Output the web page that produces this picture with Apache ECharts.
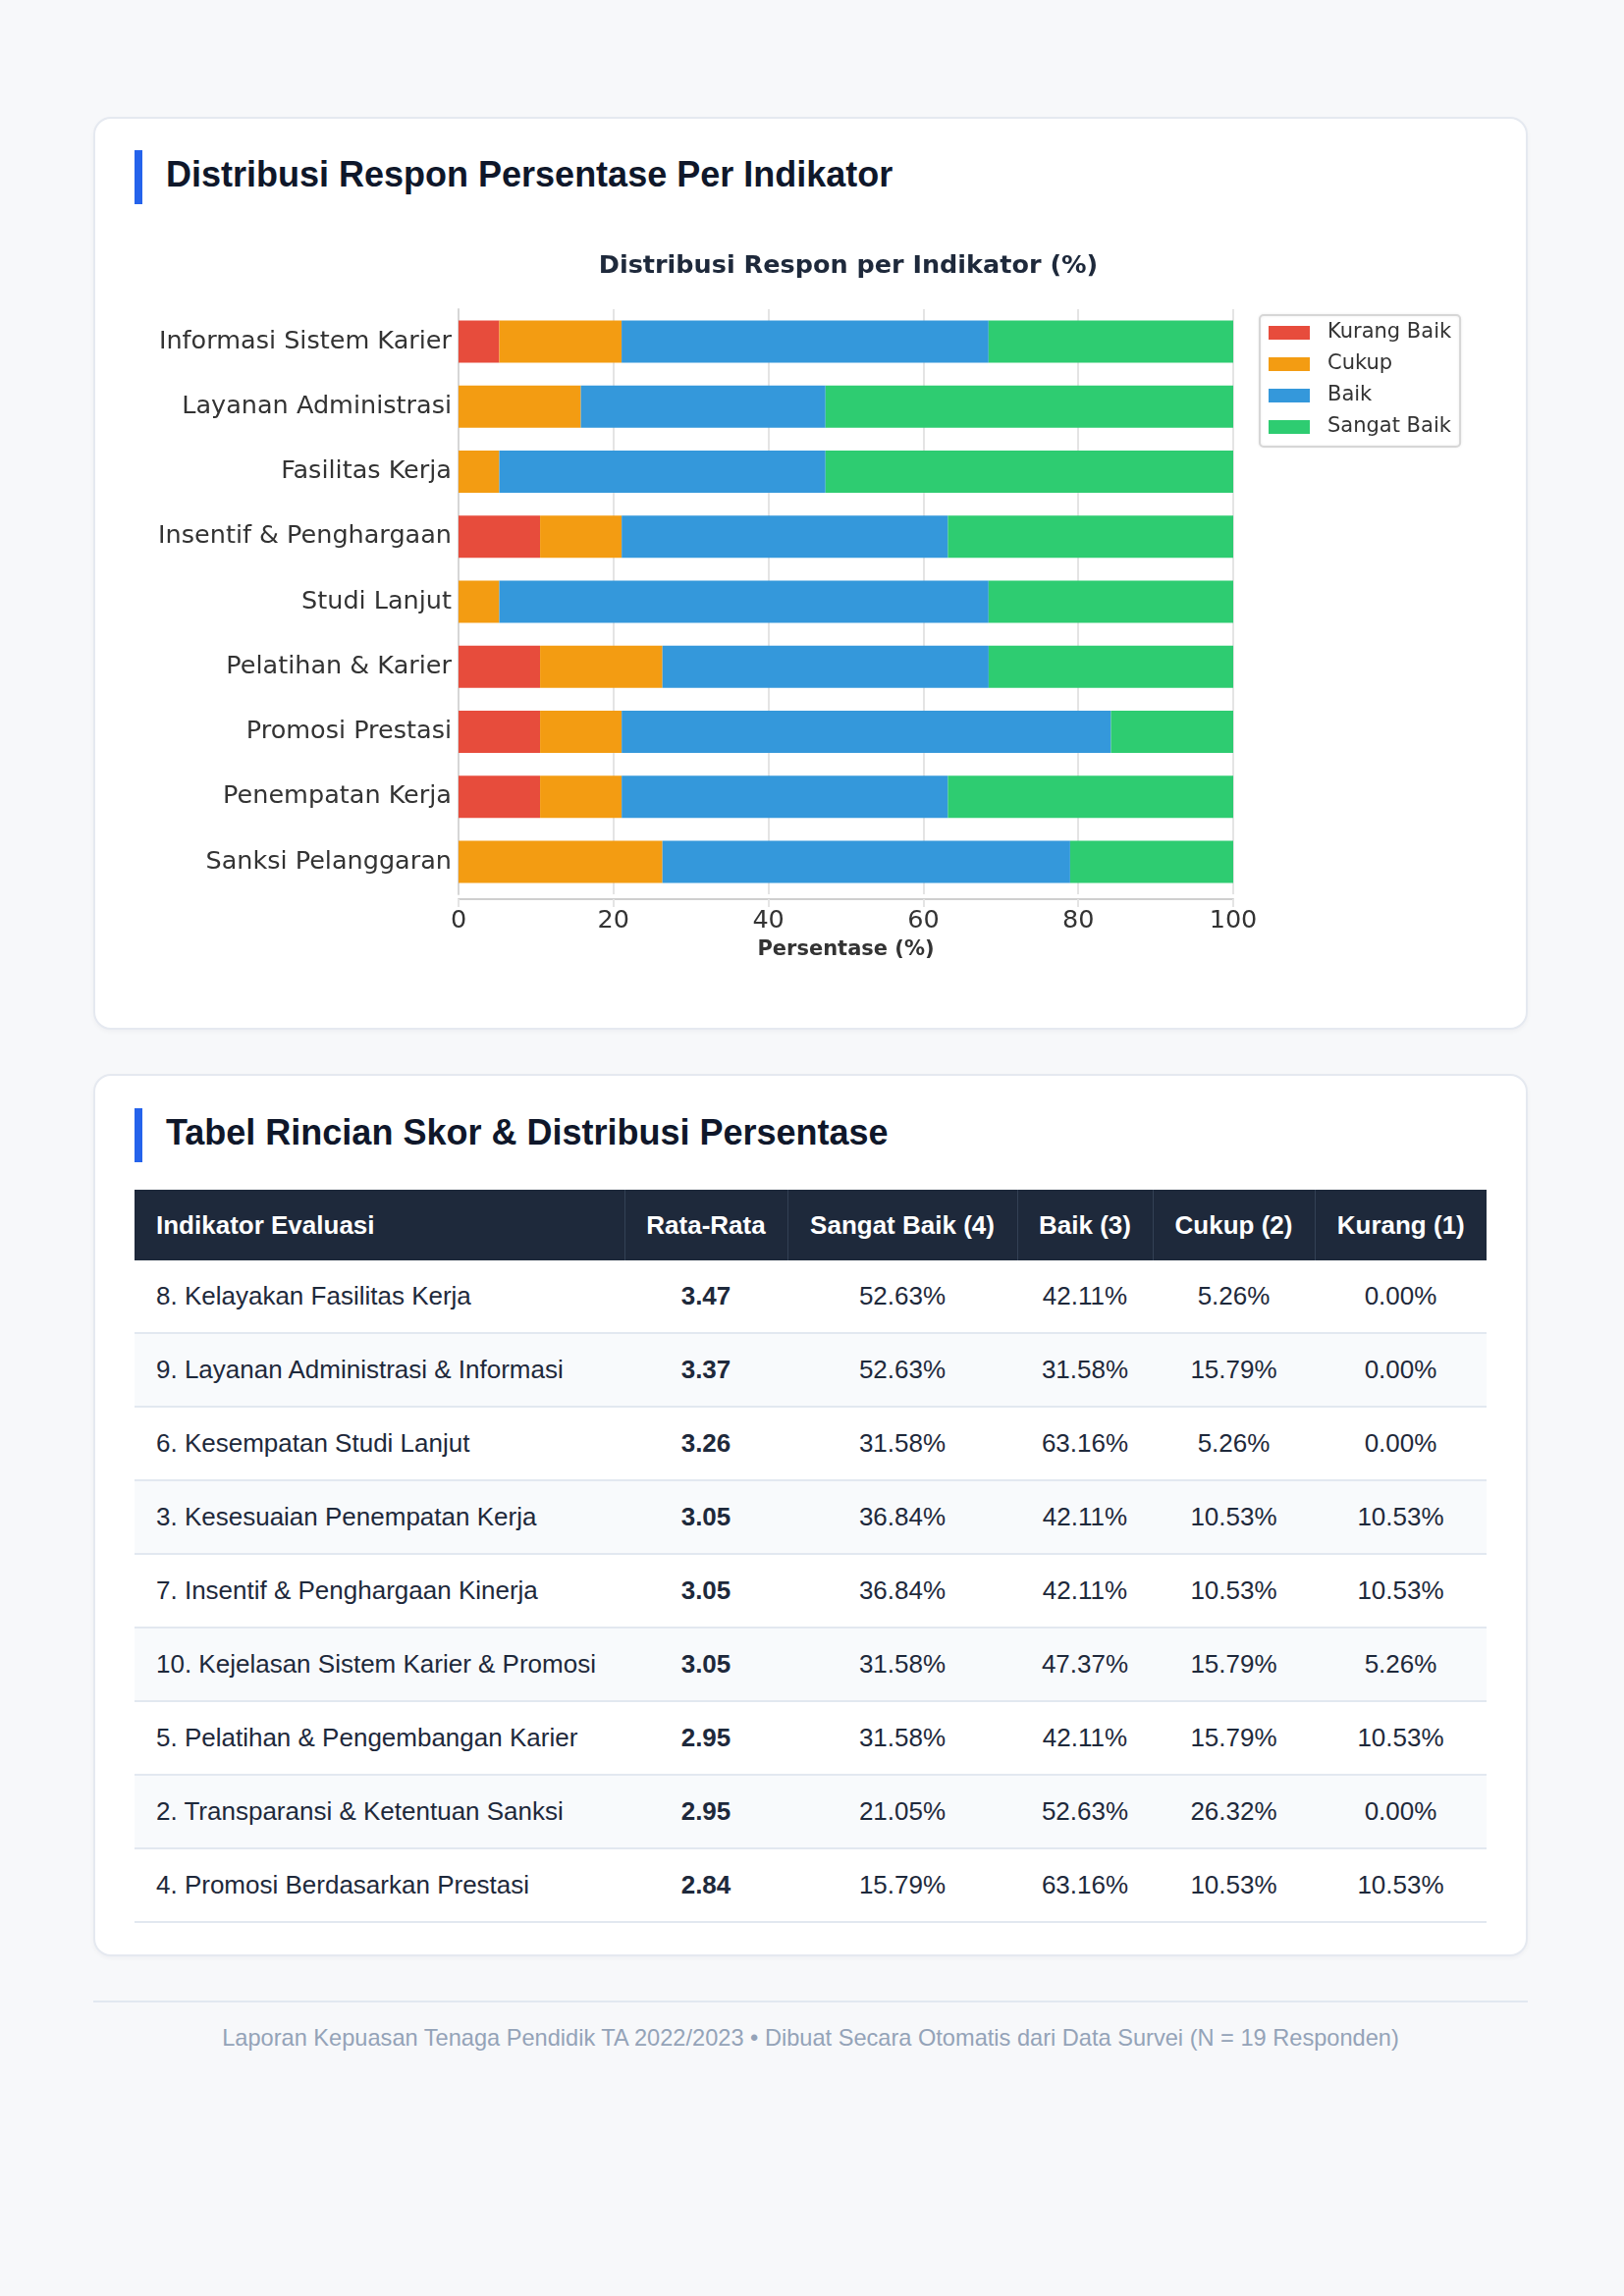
<!DOCTYPE html>
<html lang="id">
<head>
  <meta charset="UTF-8">
  <title>Distribusi Respon Persentase Per Indikator</title>
  <script src="https://cdn.jsdelivr.net/npm/echarts@6/dist/echarts.min.js"></script>
  <style>
    body {
      margin: 0;
      background: #f7f8fa;
      font-family: "Liberation Sans", Arial, sans-serif;
      color: #1e293b;
    }
    .wrap {
      width: 1461px;
      margin-left: 95px;
      padding-top: 119px;
    }
    .card {
      box-sizing: border-box;
      background: #fff;
      border: 2px solid #e5e9f0;
      border-radius: 18px;
      box-shadow: 0 2px 4px rgba(15, 23, 42, 0.04);
      padding: 32px 40px 29px 40px;
    }
    .card + .card { margin-top: 45px; padding-top: 33px; padding-bottom: 32px; }
    h2 {
      margin: 0 0 20px 0;
      font-size: 36px;
      line-height: 50px;
      font-weight: bold;
      color: #0f172a;
      border-left: 8px solid #2563eb;
      padding: 0 0 5px 24px;
    }
    .card + .card h2 { margin-bottom: 28px; }
    #chart { width: 1377px; height: 790px; }
    table {
      width: 1377px;
      border-collapse: collapse;
      table-layout: fixed;
      font-size: 26px;
    }
    th {
      background: #1e293b;
      color: #fff;
      font-weight: bold;
      height: 72px;
      padding: 0;
      text-align: center;
      border-left: 1px solid #334155;
    }
    th:first-child { text-align: left; padding-left: 22px; border-left: none; }
    td {
      height: 73px;
      padding: 0;
      text-align: center;
      border-bottom: 2px solid #e2e8f0;
      color: #1e293b;
    }
    td:first-child { text-align: left; padding-left: 22px; }
    td.avg { font-weight: bold; }
    tbody tr:nth-child(even) td { background: #f8fafc; }
    .footer {
      margin-top: 45px;
      border-top: 2px solid #e2e8f0;
      padding-top: 23px;
      text-align: center;
      font-size: 23.6px;
      color: #94a3b8;
    }
  </style>
</head>
<body>
  <div class="wrap">
    <div class="card">
      <h2>Distribusi Respon Persentase Per Indikator</h2>
      <div id="chart"></div>
    </div>

    <div class="card">
      <h2>Tabel Rincian Skor &amp; Distribusi Persentase</h2>
      <table>
        <colgroup>
          <col style="width:499px"><col style="width:166px"><col style="width:234px">
          <col style="width:138px"><col style="width:165px"><col style="width:175px">
        </colgroup>
        <thead>
          <tr>
            <th>Indikator Evaluasi</th>
            <th>Rata-Rata</th>
            <th>Sangat Baik (4)</th>
            <th>Baik (3)</th>
            <th>Cukup (2)</th>
            <th>Kurang (1)</th>
          </tr>
        </thead>
        <tbody id="rows"></tbody>
      </table>
    </div>

    <div class="footer">Laporan Kepuasan Tenaga Pendidik TA 2022/2023 • Dibuat Secara Otomatis dari Data Survei (N = 19 Responden)</div>
  </div>

  <script>
    // data grafik (urutan dari atas ke bawah)
    const indikator = ['Informasi Sistem Karier', 'Layanan Administrasi', 'Fasilitas Kerja', 'Insentif & Penghargaan',
      'Studi Lanjut', 'Pelatihan & Karier', 'Promosi Prestasi', 'Penempatan Kerja', 'Sanksi Pelanggaran'];
    const kurangBaik = [5.26, 0, 0, 10.53, 0, 10.53, 10.53, 10.53, 0];
    const cukup = [15.79, 15.79, 5.26, 10.53, 5.26, 15.79, 10.53, 10.53, 26.32];
    const baik = [47.37, 31.58, 42.11, 42.11, 63.16, 42.11, 63.16, 42.11, 52.63];
    const sangatBaik = [31.58, 52.63, 52.63, 36.84, 31.58, 31.58, 15.79, 36.84, 21.05];
    const xTicks = [0, 20, 40, 60, 80, 100];

    // data tabel
    const tabelIndikator = ['8. Kelayakan Fasilitas Kerja', '9. Layanan Administrasi & Informasi', '6. Kesempatan Studi Lanjut',
      '3. Kesesuaian Penempatan Kerja', '7. Insentif & Penghargaan Kinerja', '10. Kejelasan Sistem Karier & Promosi',
      '5. Pelatihan & Pengembangan Karier', '2. Transparansi & Ketentuan Sanksi', '4. Promosi Berdasarkan Prestasi'];
    const rataRata = ['3.47', '3.37', '3.26', '3.05', '3.05', '3.05', '2.95', '2.95', '2.84'];
    const pSangatBaik = ['52.63', '52.63', '31.58', '36.84', '36.84', '31.58', '31.58', '21.05', '15.79'];
    const pBaik = ['42.11', '31.58', '63.16', '42.11', '42.11', '47.37', '42.11', '52.63', '63.16'];
    const pCukup = ['5.26', '15.79', '5.26', '10.53', '10.53', '15.79', '15.79', '26.32', '10.53'];
    const pKurang = ['0.00', '0.00', '0.00', '10.53', '10.53', '5.26', '10.53', '0.00', '10.53'];

    const tbody = document.getElementById('rows');
    tabelIndikator.forEach((nama, i) => {
      const tr = document.createElement('tr');
      const cells = [nama, rataRata[i], pSangatBaik[i] + '%', pBaik[i] + '%', pCukup[i] + '%', pKurang[i] + '%'];
      cells.forEach((txt, j) => {
        const td = document.createElement('td');
        td.textContent = txt;
        if (j === 1) td.className = 'avg';
        tr.appendChild(td);
      });
      tbody.appendChild(tr);
    });

    const chart = echarts.init(document.getElementById('chart'));
    const font = 'DejaVu Sans';
    const gridColor = '#e4e4e4';

    function barSeries(name, data, color) {
      return {
        name: name,
        type: 'bar',
        stack: 'total',
        data: data,
        barWidth: 43,
        itemStyle: { color: color },
        emphasis: { disabled: true }
      };
    }

    chart.setOption({
      animation: false,
      textStyle: { fontFamily: font },
      title: {
        text: 'Distribusi Respon per Indikator (%)',
        left: 727,
        top: 30,
        textAlign: 'center',
        padding: 0,
        textStyle: { fontFamily: font, fontSize: 25.5, fontWeight: 'bold', color: '#1e293b' }
      },
      legend: {
        orient: 'vertical',
        left: 1146,
        top: 93,
        padding: [7, 9, 9, 9],
        itemWidth: 42,
        itemHeight: 14,
        itemGap: 10,
        icon: 'rect',
        borderColor: '#d6d6d6',
        borderWidth: 2,
        borderRadius: 4,
        shadowBlur: 3,
        shadowColor: 'rgba(0,0,0,0.08)',
        textStyle: { fontFamily: font, fontSize: 21, color: '#333', lineHeight: 22, padding: [0, 0, 0, 13] },
        data: ['Kurang Baik', 'Cukup', 'Baik', 'Sangat Baik']
      },
      grid: { left: 330, right: 258, top: 87, height: 596, containLabel: false, outerBoundsMode: 'none' },
      xAxis: {
        type: 'value',
        min: xTicks[0],
        max: xTicks[xTicks.length - 1],
        interval: xTicks[1] - xTicks[0],
        offset: 5,
        name: 'Persentase (%)',
        nameLocation: 'middle',
        nameGap: 41,
        nameTextStyle: { fontFamily: font, fontSize: 21, fontWeight: 'bold', color: '#333' },
        axisLine: { show: true, lineStyle: { color: '#cfcfcf', width: 2 } },
        axisTick: { show: true, length: 8, lineStyle: { color: gridColor, width: 2 } },
        axisLabel: { fontFamily: font, fontSize: 25.5, color: '#333', margin: 9 },
        splitLine: { show: true, lineStyle: { color: gridColor, width: 2 } }
      },
      yAxis: {
        type: 'category',
        inverse: true,
        data: indikator,
        axisLine: { show: true, lineStyle: { color: '#d6d6d6', width: 2 } },
        axisTick: { show: false },
        axisLabel: { fontFamily: font, fontSize: 25.5, color: '#333', margin: 7 },
        splitLine: { show: false }
      },
      series: [
        barSeries('Kurang Baik', kurangBaik, '#e74c3c'),
        barSeries('Cukup', cukup, '#f39c12'),
        barSeries('Baik', baik, '#3498db'),
        barSeries('Sangat Baik', sangatBaik, '#2ecc71')
      ]
    });
  </script>
</body>
</html>
